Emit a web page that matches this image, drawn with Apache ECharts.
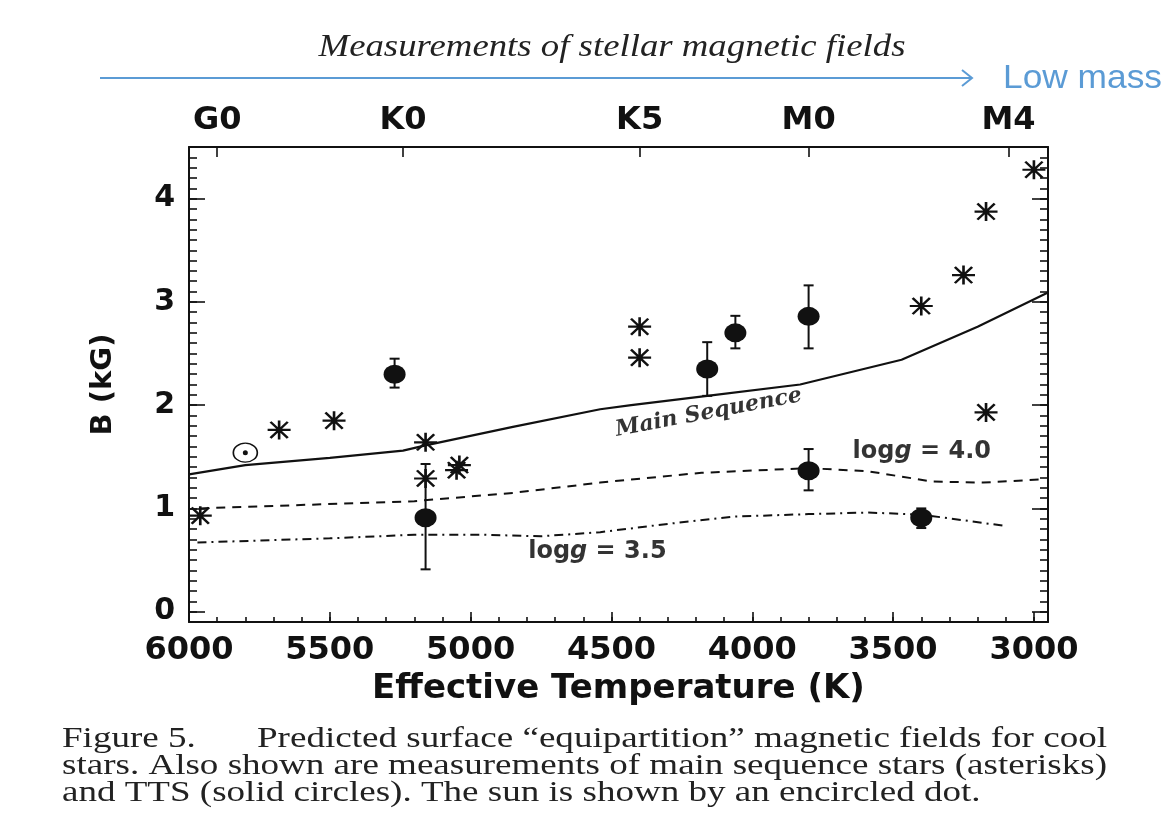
<!DOCTYPE html>
<html>
<head>
<meta charset="utf-8">
<title>Predicted surface equipartition magnetic fields</title>
<script src="https://cdn.jsdelivr.net/npm/echarts@6.0.0/dist/echarts.min.js"></script>
<style>
  html, body { margin: 0; padding: 0; background: #fff; }
  #chart { width: 1173px; height: 825px; }
</style>
</head>
<body>
<div id="chart"></div>
<script>
// ---- axis tick labels ----
const tempTicks = [6000, 5500, 5000, 4500, 4000, 3500, 3000];
const fieldTicks = [0, 1, 2, 3, 4];
const spectralTypes = ['G0', 'K0', 'K5', 'M0', 'M4'];
const spectralTemps = [5900, 5240, 4400, 3800, 3090];

// ---- model curves: [Teff (K), B (kG)] ----
const mainSequence = [[6000, 1.33], [5800, 1.42], [5500, 1.49], [5240, 1.56], [5160, 1.61],
  [4850, 1.79], [4540, 1.96], [4430, 2.00], [4160, 2.09], [3830, 2.20], [3470, 2.44],
  [3200, 2.76], [2950, 3.09]];
const logg40 = [[5960, 1.00], [5200, 1.07], [4850, 1.15], [4540, 1.25], [4430, 1.28],
  [4180, 1.345], [3800, 1.39], [3590, 1.36], [3360, 1.26], [3180, 1.25], [2980, 1.28]];
const logg35 = [[5970, 0.67], [5500, 0.71], [5200, 0.745], [4960, 0.745], [4750, 0.73],
  [4540, 0.77], [4300, 0.85], [4070, 0.92], [3800, 0.945], [3590, 0.96], [3400, 0.94],
  [3100, 0.83]];

// ---- measurements ----
const msStars = [[5960, 0.93], [5680, 1.76], [5485, 1.85], [5160, 1.64], [5160, 1.29],
  [5050, 1.37], [5040, 1.42], [4400, 2.76], [4400, 2.46], [3400, 2.96], [3250, 3.26],
  [3170, 3.875], [3170, 1.93], [3000, 4.28]];
const ttsStars = [[5270, 2.30], [5160, 0.91], [4160, 2.35], [4060, 2.70], [3800, 2.86],
  [3800, 1.365], [3400, 0.91]];
const ttsErrLow = [2.17, 0.41, 2.09, 2.55, 2.55, 1.175, 0.81];
const ttsErrHigh = [2.45, 1.43, 2.61, 2.865, 3.16, 1.575, 1.00];
const sun = [[5800, 1.54]];

// ---- minor tick positions ----
const tempMinor = [];
for (let t = 3000; t <= 6000; t += 100) tempMinor.push(t);
const fieldMinor = [];
for (let i = 0; i <= 45; i++) fieldMinor.push(i / 10);

const INK = '#111';
const BLUE = '#5b9bd5';
const SANS = 'DejaVu Sans';

const chart = echarts.init(document.getElementById('chart'), null, { renderer: 'canvas' });

// horizontal stretch so a text line spans the requested width
const measureCtx = document.createElement('canvas').getContext('2d');
function fitScale(text, font, width) {
  measureCtx.font = font;
  return width / measureCtx.measureText(text).width;
}

const axisLineStyle = { color: INK, width: 2 };
const tickStyle = { color: INK, width: 1.6 };

function xAxisBase(extra) {
  return Object.assign({
    type: 'value', min: 2950, max: 6000, inverse: true, gridIndex: 0,
    splitLine: { show: false }, axisPointer: { show: false }
  }, extra);
}
function yAxisBase(extra) {
  return Object.assign({
    type: 'value', min: -0.1, max: 4.5, gridIndex: 0,
    splitLine: { show: false }, axisPointer: { show: false }
  }, extra);
}

const ttsErr = ttsStars.map((p, i) => [p[0], ttsErrLow[i], ttsErrHigh[i]]);

const asteriskPath = 'path://M0,10L24,10M12,0L12,20M3,1.5L21,18.5M21,1.5L3,18.5';

const labelFontSans = { fontFamily: SANS, fontWeight: 'bold', fontSize: 24, color: '#000' };
const loggRich = {
  a: labelFontSans,
  b: Object.assign({}, labelFontSans, { fontStyle: 'italic' })
};

const captionFont = '29px "Liberation Serif"';
const captionLine2 = 'stars. Also shown are measurements of main sequence stars (asterisks)';
const captionScale = fitScale(captionLine2, captionFont, 1045);
const captionP1 = 'Predicted surface \u201Cequipartition\u201D magnetic fields for cool';
const captionP1Scale = fitScale(captionP1, captionFont, 850);
const titleText = 'Measurements of stellar magnetic fields';
const titleFont = 'italic 31px "Liberation Serif"';
const lowMassFont = '33px "Liberation Sans"';

chart.setOption({
  animation: false,
  backgroundColor: '#fff',
  grid: { left: 189, top: 147, width: 859, height: 475, outerBoundsMode: 'none' },
  xAxis: [
    xAxisBase({
      position: 'bottom',
      axisLine: { show: true, onZero: false, lineStyle: axisLineStyle },
      axisTick: { show: true, inside: true, length: 10, customValues: tempTicks, lineStyle: tickStyle },
      axisLabel: {
        customValues: tempTicks, formatter: v => String(v),
        fontFamily: SANS, fontWeight: 'bold', fontSize: 32, color: INK, margin: 13
      },
      name: 'Effective Temperature (K)', nameLocation: 'middle', nameGap: 50,
      nameTextStyle: { fontFamily: SANS, fontWeight: 'bold', fontSize: 34, color: INK }
    }),
    xAxisBase({
      position: 'bottom',
      axisLine: { show: false, onZero: false },
      axisTick: { show: true, inside: true, length: 5, customValues: tempMinor, lineStyle: tickStyle },
      axisLabel: { show: false }
    }),
    xAxisBase({
      position: 'top',
      axisLine: { show: true, onZero: false, lineStyle: axisLineStyle },
      axisTick: { show: true, inside: true, length: 10, customValues: spectralTemps, lineStyle: tickStyle },
      axisLabel: {
        customValues: spectralTemps,
        formatter: v => spectralTypes[spectralTemps.indexOf(v)] || '',
        fontFamily: SANS, fontWeight: 'bold', fontSize: 32, color: INK, margin: 10
      }
    })
  ],
  yAxis: [
    yAxisBase({
      position: 'left',
      axisLine: { show: true, onZero: false, lineStyle: axisLineStyle },
      axisTick: { show: true, inside: true, length: 16, customValues: fieldTicks, lineStyle: tickStyle },
      axisLabel: { customValues: fieldTicks, formatter: v => String(v), fontFamily: SANS, fontWeight: 'bold', fontSize: 30, color: INK, margin: 14 },
      name: 'B (kG)', nameLocation: 'middle', nameGap: 71, nameRotate: 90,
      nameTextStyle: { fontFamily: SANS, fontWeight: 'bold', fontSize: 29, color: INK }
    }),
    yAxisBase({
      position: 'left',
      axisLine: { show: false, onZero: false },
      axisTick: { show: true, inside: true, length: 8, customValues: fieldMinor, lineStyle: tickStyle },
      axisLabel: { show: false }
    }),
    yAxisBase({
      position: 'right',
      axisLine: { show: true, onZero: false, lineStyle: axisLineStyle },
      axisTick: { show: true, inside: true, length: 16, customValues: fieldTicks, lineStyle: tickStyle },
      axisLabel: { show: false }
    }),
    yAxisBase({
      position: 'right',
      axisLine: { show: false, onZero: false },
      axisTick: { show: true, inside: true, length: 8, customValues: fieldMinor, lineStyle: tickStyle },
      axisLabel: { show: false }
    })
  ],
  series: [
    {
      name: 'Main Sequence', type: 'line', data: mainSequence, symbol: 'none',
      lineStyle: { color: INK, width: 2.2 }, silent: true, z: 2
    },
    {
      name: 'log g = 4.0', type: 'line', data: logg40, symbol: 'none',
      lineStyle: { color: INK, width: 2, type: [9, 7] }, silent: true, z: 2
    },
    {
      name: 'log g = 3.5', type: 'line', data: logg35, symbol: 'none',
      lineStyle: { color: INK, width: 2, type: [9, 5, 2, 5] }, silent: true, z: 2
    },
    {
      name: 'TTS error', type: 'custom', data: ttsErr, encode: { x: 0, y: [1, 2] }, z: 3,
      renderItem: (params, api) => {
        const lo = api.coord([api.value(0), api.value(1)]);
        const hi = api.coord([api.value(0), api.value(2)]);
        const w = 5;
        const st = { stroke: INK, lineWidth: 2 };
        return {
          type: 'group',
          children: [
            { type: 'line', shape: { x1: lo[0], y1: lo[1], x2: hi[0], y2: hi[1] }, style: st },
            { type: 'line', shape: { x1: lo[0] - w, y1: lo[1], x2: lo[0] + w, y2: lo[1] }, style: st },
            { type: 'line', shape: { x1: hi[0] - w, y1: hi[1], x2: hi[0] + w, y2: hi[1] }, style: st }
          ]
        };
      }
    },
    {
      name: 'TTS', type: 'scatter', data: ttsStars, symbol: 'circle', symbolSize: [22, 19],
      itemStyle: { color: INK, opacity: 1 }, z: 4
    },
    {
      name: 'Main sequence stars', type: 'scatter', data: msStars, symbol: asteriskPath,
      symbolSize: [23, 19], itemStyle: { color: INK, borderColor: INK, borderWidth: 2.4, opacity: 1 }, z: 4
    },
    {
      name: 'Sun', type: 'scatter', data: sun, symbol: 'circle', symbolSize: [24, 19],
      itemStyle: { color: '#fff', borderColor: INK, borderWidth: 1.5, opacity: 1 }, z: 4
    },
    {
      name: 'Sun centre', type: 'scatter', data: sun, symbol: 'circle', symbolSize: 5,
      itemStyle: { color: INK, opacity: 1 }, z: 5
    },
    {
      name: 'curve labels', type: 'scatter', symbolSize: 0, silent: true, z: 6,
      data: [
        { value: [4155, 1.925], label: {
          show: true, position: 'inside', formatter: 'Main Sequence', rotate: 10.7,
          fontFamily: 'DejaVu Serif', fontStyle: 'italic', fontWeight: 'bold', fontSize: 22,
          color: '#000', textBorderWidth: 0 } },
        { value: [3398, 1.55], label: {
          show: true, position: 'inside', formatter: '{a|log}{b|g}{a| = 4.0}', rich: loggRich,
          color: '#000', textBorderWidth: 0 } },
        { value: [4550, 0.58], label: {
          show: true, position: 'inside', formatter: '{a|log}{b|g}{a| = 3.5}', rich: loggRich,
          color: '#000', textBorderWidth: 0 } }
      ]
    }
  ],
  graphic: [
    {
      type: 'text', x: 612, y: 48, scaleX: fitScale(titleText, titleFont, 587),
      style: { text: titleText, font: titleFont, fill: '#222', textAlign: 'center', textVerticalAlign: 'middle' }
    },
    {
      type: 'line', shape: { x1: 100, y1: 78, x2: 972, y2: 78 },
      style: { stroke: BLUE, lineWidth: 2 }
    },
    {
      type: 'polyline', shape: { points: [[962, 70], [972, 78], [962, 86]] },
      style: { stroke: BLUE, lineWidth: 2, fill: null }
    },
    {
      type: 'text', x: 1003, y: 79, scaleX: fitScale('Low mass', lowMassFont, 159),
      style: { text: 'Low mass', font: lowMassFont, fill: BLUE, textAlign: 'left', textVerticalAlign: 'middle' }
    },
    {
      type: 'text', x: 62, y: 739, scaleX: captionScale,
      style: { text: 'Figure 5.', font: captionFont, fill: '#222', textAlign: 'left', textVerticalAlign: 'middle' }
    },
    {
      type: 'text', x: 257, y: 739, scaleX: captionP1Scale,
      style: { text: captionP1, font: captionFont, fill: '#222', textAlign: 'left', textVerticalAlign: 'middle' }
    },
    {
      type: 'text', x: 62, y: 766, scaleX: captionScale,
      style: { text: captionLine2, font: captionFont, fill: '#222', textAlign: 'left', textVerticalAlign: 'middle' }
    },
    {
      type: 'text', x: 62, y: 793, scaleX: captionScale,
      style: { text: 'and TTS (solid circles). The sun is shown by an encircled dot.', font: captionFont, fill: '#222', textAlign: 'left', textVerticalAlign: 'middle' }
    }
  ]
});
</script>
</body>
</html>
